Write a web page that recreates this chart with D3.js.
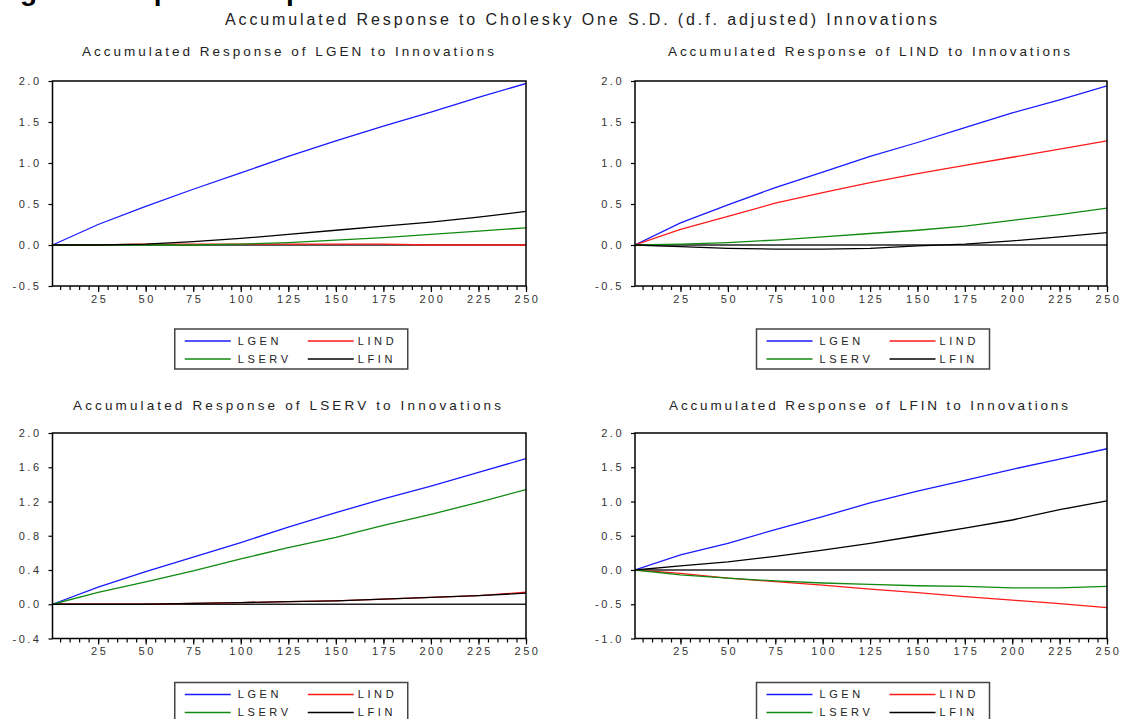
<!DOCTYPE html>
<html>
<head>
<meta charset="utf-8">
<script src="https://cdn.jsdelivr.net/npm/d3@7"></script>
<style>
  body { margin: 0; background: #fff; }
  text { font-family: "Liberation Sans", Arial, sans-serif; }
</style>
</head>
<body>
<script>
// periodi (orizzonte 1..250)
var periods = [1, 25, 50, 75, 100, 125, 150, 175, 200, 225, 250];
var seriesNames = ['LGEN', 'LIND', 'LSERV', 'LFIN'];
var xTicks = [25, 50, 75, 100, 125, 150, 175, 200, 225, 250];

// risposta di LGEN
var genLGEN = [0, 0.25, 0.47, 0.68, 0.88, 1.08, 1.27, 1.45, 1.62, 1.80, 1.97];
var genLIND = [0, 0, 0.01, 0.01, 0.01, 0.01, 0.01, 0.01, 0, 0, 0];
var genLSERV = [0, 0, 0, 0, 0.01, 0.03, 0.06, 0.09, 0.13, 0.17, 0.21];
var genLFIN = [0, 0, 0.01, 0.04, 0.08, 0.13, 0.18, 0.23, 0.28, 0.34, 0.41];

// risposta di LIND
var indLGEN = [0, 0.27, 0.49, 0.70, 0.89, 1.08, 1.25, 1.43, 1.61, 1.77, 1.94];
var indLIND = [0, 0.19, 0.35, 0.51, 0.64, 0.76, 0.87, 0.97, 1.07, 1.17, 1.27];
var indLSERV = [0, 0.01, 0.03, 0.06, 0.10, 0.14, 0.18, 0.23, 0.30, 0.37, 0.45];
var indLFIN = [0, -0.02, -0.04, -0.05, -0.05, -0.04, -0.01, 0.01, 0.05, 0.10, 0.15];

// risposta di LSERV
var servLGEN = [0, 0.20, 0.38, 0.55, 0.72, 0.90, 1.07, 1.23, 1.38, 1.54, 1.70];
var servLIND = [0, 0, 0, 0.01, 0.02, 0.03, 0.04, 0.06, 0.08, 0.10, 0.14];
var servLSERV = [0, 0.14, 0.26, 0.39, 0.53, 0.66, 0.78, 0.92, 1.05, 1.19, 1.34];
var servLFIN = [0, 0, 0, 0.01, 0.02, 0.03, 0.04, 0.06, 0.08, 0.10, 0.13];

// risposta di LFIN
var finLGEN = [0, 0.22, 0.39, 0.59, 0.78, 0.98, 1.15, 1.31, 1.47, 1.62, 1.77];
var finLIND = [0, -0.05, -0.12, -0.17, -0.22, -0.28, -0.33, -0.39, -0.44, -0.49, -0.55];
var finLSERV = [0, -0.07, -0.12, -0.16, -0.19, -0.21, -0.23, -0.24, -0.26, -0.26, -0.24];
var finLFIN = [0, 0.06, 0.12, 0.20, 0.29, 0.39, 0.50, 0.61, 0.73, 0.88, 1.01];

var yTicksHalf = [-0.5, 0, 0.5, 1, 1.5, 2];
var yTicksServ = [-0.4, 0, 0.4, 0.8, 1.2, 1.6, 2.0];
var yTicksFin = [-1, -0.5, 0, 0.5, 1, 1.5, 2];

var mainTitle = 'Accumulated Response to Cholesky One S.D. (d.f. adjusted) Innovations';
var panelTitles = [
  'Accumulated Response of LGEN to Innovations',
  'Accumulated Response of LIND to Innovations',
  'Accumulated Response of LSERV to Innovations',
  'Accumulated Response of LFIN to Innovations'
];

var width = 1122;
var height = 719;
var colors = ['#1a1aff', '#ff1a1a', '#118a11', '#000000'];

var svg = d3.select('body').append('svg')
  .attr('width', width)
  .attr('height', height)
  .style('display', 'block');

// titolo della figura, tagliato in alto (si vedono solo le code delle lettere)
svg.append('text')
  .attr('x', -5)
  .attr('y', -0.5)
  .style('font-size', '28px')
  .style('font-weight', 'bold')
  .style('fill', '#000')
  .text('Figure 4: Impulse Response Functions');

svg.append('text')
  .attr('x', 225)
  .attr('y', 25)
  .attr('textLength', 712)
  .attr('lengthAdjust', 'spacing')
  .style('font-size', '16px')
  .style('fill', '#222')
  .text(mainTitle);

// disposizione dei quattro pannelli
var panels = [
  { left: 52.5, right: 526, top: 81, bottom: 286, titleX: 82, titleW: 412, titleY: 56,
    yDomain: [-0.5, 2], yTicks: yTicksHalf, legendTop: 329,
    values: [genLGEN, genLIND, genLSERV, genLFIN] },
  { left: 635, right: 1107, top: 81, bottom: 286, titleX: 668, titleW: 402, titleY: 56,
    yDomain: [-0.5, 2], yTicks: yTicksHalf, legendTop: 329,
    values: [indLGEN, indLIND, indLSERV, indLFIN] },
  { left: 52.5, right: 526, top: 433, bottom: 638.5, titleX: 73, titleW: 428, titleY: 410,
    yDomain: [-0.4, 2], yTicks: yTicksServ, legendTop: 682.5,
    values: [servLGEN, servLIND, servLSERV, servLFIN] },
  { left: 635, right: 1107, top: 433, bottom: 638.5, titleX: 669, titleW: 399, titleY: 410,
    yDomain: [-1, 2], yTicks: yTicksFin, legendTop: 682.5,
    values: [finLGEN, finLIND, finLSERV, finLFIN] }
];

panels.forEach(function (p, i) {
  drawPanel(p, i);
});

function drawPanel(p, i) {
  var g = svg.append('g').attr('class', 'panel' + i);

  var x = d3.scaleLinear().domain([1, 250]).range([p.left, p.right]);
  var y = d3.scaleLinear().domain(p.yDomain).range([p.bottom, p.top]);

  g.append('text')
    .attr('x', p.titleX)
    .attr('y', p.titleY)
    .attr('textLength', p.titleW)
    .attr('lengthAdjust', 'spacing')
    .style('font-size', '13.5px')
    .style('fill', '#222')
    .text(panelTitles[i]);

  g.append('clipPath')
    .attr('id', 'clip' + i)
    .append('rect')
    .attr('x', p.left)
    .attr('y', p.top)
    .attr('width', p.right - p.left)
    .attr('height', p.bottom - p.top);

  // linea dello zero
  g.append('line')
    .attr('x1', p.left)
    .attr('x2', p.right)
    .attr('y1', y(0))
    .attr('y2', y(0))
    .style('stroke', '#222')
    .style('stroke-width', 1.5);

  var line = d3.line()
    .x(function (d) { return x(d[0]); })
    .y(function (d) { return y(d[1]); });

  p.values.forEach(function (vals, k) {
    var pts = periods.map(function (t, j) { return [t, vals[j]]; });
    g.append('path')
      .datum(pts)
      .attr('d', line)
      .attr('clip-path', 'url(#clip' + i + ')')
      .style('fill', 'none')
      .style('stroke', colors[k])
      .style('stroke-width', 1.3);
  });

  // cornice
  g.append('rect')
    .attr('x', p.left)
    .attr('y', p.top)
    .attr('width', p.right - p.left)
    .attr('height', p.bottom - p.top)
    .style('fill', 'none')
    .style('stroke', '#000')
    .style('stroke-width', 1.5);

  // tacche minori sull'asse x
  var minor = d3.range(5, 251, 5);
  g.append('g')
    .attr('transform', 'translate(0,' + p.bottom + ')')
    .call(d3.axisBottom(x).tickValues(minor).tickSize(4).tickFormat(''))
    .call(function (a) { a.select('.domain').remove(); });

  var xAxis = g.append('g')
    .attr('transform', 'translate(0,' + p.bottom + ')')
    .call(d3.axisBottom(x).tickValues(xTicks).tickSize(6).tickPadding(3));
  xAxis.select('.domain').remove();
  xAxis.selectAll('text')
    .attr('dx', '1px')
    .style('font-size', '11px')
    .style('letter-spacing', '2.5px')
    .style('font-family', '"Liberation Sans", Arial, sans-serif')
    .style('fill', '#333');

  var yAxis = g.append('g')
    .attr('transform', 'translate(' + p.left + ',0)')
    .call(d3.axisLeft(y).tickValues(p.yTicks).tickSize(4).tickPadding(7)
      .tickFormat(function (d) { return d.toFixed(1); }));
  yAxis.select('.domain').remove();
  yAxis.selectAll('text')
    .style('font-size', '11px')
    .style('letter-spacing', '2.5px')
    .style('font-family', '"Liberation Sans", Arial, sans-serif')
    .style('fill', '#333');
  g.selectAll('.tick line').style('stroke', '#000').style('stroke-width', 1.2);

  drawLegend(g, (p.left + p.right) / 2 + 2, p.legendTop);
}

function drawLegend(g, cx, top) {
  var left = cx - 116.5;
  g.append('rect')
    .attr('x', left)
    .attr('y', top)
    .attr('width', 233)
    .attr('height', 40)
    .style('fill', '#fff')
    .style('stroke', '#444')
    .style('stroke-width', 1.5);

  seriesNames.forEach(function (name, k) {
    var col = k % 2;
    var row = Math.floor(k / 2);
    var lx = left + 10 + col * 123;
    var ly = top + 12 + row * 18;
    g.append('line')
      .attr('x1', lx)
      .attr('x2', lx + 46)
      .attr('y1', ly)
      .attr('y2', ly)
      .style('stroke', colors[k])
      .style('stroke-width', 1.3);
    g.append('text')
      .attr('x', lx + 53 - col * 3)
      .attr('y', ly)
      .attr('dy', '0.36em')
      .style('font-size', '11px')
      .style('letter-spacing', '3.6px')
      .style('fill', '#222')
      .text(name);
  });
}
</script>
</body>
</html>
